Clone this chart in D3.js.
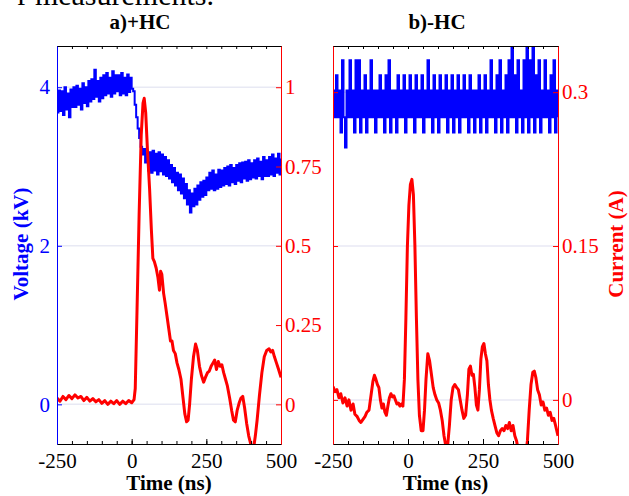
<!DOCTYPE html>
<html>
<head>
<meta charset="utf-8">
<script src="https://cdn.jsdelivr.net/npm/d3@7"></script>
<style>
  body { margin: 0; background: #fff; }
  svg text { font-family: "Liberation Serif", "Times New Roman", serif; }
</style>
</head>
<body>
<div id="chart"></div>
<script>
// tick labels
const timeTicks = [-250, 0, 250, 500];
const voltTicks = [0, 2, 4];
const currTicksA = [0, 0.25, 0.5, 0.75, 1];
const currTicksB = [0, 0.15, 0.3];

// voltage samples (kV), one every 5 ns from -250 ns
const sampleStart = -250, sampleStep = 5;
const voltA = [
  3.68, 3.96, 3.70, 3.95, 3.65, 4.00, 3.72, 3.92, 3.62, 3.97, 3.75,
  4.00, 3.75, 4.02, 3.78, 3.98, 3.72, 4.05, 3.80, 4.00, 3.76,
  4.08, 3.82, 4.10, 3.85, 4.22, 3.88, 4.08, 3.82, 4.12, 3.86,
  4.15, 3.90, 4.18, 3.92, 4.12, 3.88, 4.20, 3.92, 4.15, 3.95,
  4.15, 3.90, 4.18, 3.92, 4.12, 3.90, 4.16, 3.94, 4.12, 3.98,
  3.95, 3.78, 3.62, 3.48, 3.36, 3.25, 3.15, 3.22, 3.05, 3.18,
  2.95, 3.18, 2.92, 3.20, 2.95, 3.16, 2.90, 3.18, 2.94, 3.15,
  2.90, 3.12, 2.88, 3.08, 2.85, 3.02, 2.80, 2.98, 2.76, 2.92,
  2.70, 2.90, 2.66, 2.85, 2.60, 2.78, 2.52, 2.70, 2.42, 2.66,
  2.50, 2.72, 2.52, 2.76, 2.58, 2.80, 2.62, 2.82, 2.64, 2.86,
  2.70, 2.92, 2.72, 2.95, 2.70, 2.90, 2.72, 2.96, 2.74, 2.95,
  2.76, 2.98, 2.78, 3.00, 2.76, 3.02, 2.80, 2.98, 2.78, 3.02,
  2.82, 3.04, 2.80, 3.05, 2.85, 3.06, 2.82, 3.08, 2.84, 3.04,
  2.86, 3.08, 2.85, 3.10, 2.88, 3.06, 2.84, 3.12, 2.88, 3.08,
  2.88, 3.12, 2.90, 3.15, 2.88, 3.10, 2.92, 3.16, 2.90, 3.10
];
const voltB = [
  3.96, 3.62, 4.15, 3.62, 3.96, 3.43, 4.34, 3.62, 3.24, 3.96, 3.62,
  4.34, 3.62, 3.96, 3.43, 4.34, 3.62, 4.34, 3.43, 3.96, 3.62,
  4.15, 3.43, 3.96, 3.62, 4.34, 3.62, 3.96, 3.43, 3.96, 3.62,
  4.15, 3.62, 3.96, 3.43, 4.15, 3.62, 4.34, 3.43, 3.96, 3.62,
  3.96, 3.43, 4.15, 3.62, 3.96, 3.62, 4.15, 3.43, 3.96, 3.62,
  4.15, 3.62, 3.96, 3.43, 4.15, 3.62, 3.96, 3.62, 4.15, 3.43,
  3.96, 3.62, 4.34, 3.62, 3.96, 3.43, 4.15, 3.62, 3.96, 3.43,
  4.15, 3.62, 3.96, 3.62, 4.15, 3.43, 3.96, 3.62, 4.15, 3.43,
  3.96, 3.62, 4.15, 3.43, 3.96, 3.62, 4.15, 3.62, 3.96, 3.43,
  4.15, 3.62, 3.96, 3.43, 3.96, 3.62, 4.15, 3.43, 3.96, 3.62,
  4.15, 3.43, 3.96, 3.62, 4.34, 3.62, 3.96, 3.43, 4.15, 3.62,
  4.34, 3.43, 3.96, 3.62, 4.15, 3.43, 4.34, 3.62, 4.50, 3.62,
  4.15, 3.43, 4.34, 3.62, 3.96, 3.43, 4.34, 3.62, 4.50, 3.43,
  4.34, 3.62, 4.50, 3.43, 4.15, 3.62, 4.34, 3.43, 3.96, 3.62,
  4.34, 3.62, 3.96, 3.43, 4.15, 3.62, 4.34, 3.43, 3.96, 3.62
];

// current, [time ns, current A]
const currA = [
  [-250, 0.02], [-240, 0.01], [-230, 0.025], [-220, 0.015], [-210, 0.028], [-200, 0.018],
  [-190, 0.03], [-180, 0.02], [-170, 0.025], [-160, 0.012], [-150, 0.022], [-140, 0.01],
  [-130, 0.018], [-120, 0.008], [-110, 0.015], [-100, 0.003], [-90, 0.012], [-80, 0.0],
  [-70, 0.01], [-60, 0.002], [-50, 0.012], [-40, 0.0], [-30, 0.01], [-20, 0.002],
  [-10, 0.012], [0, 0.005], [8, 0.015], [12, 0.05], [18, 0.3], [25, 0.6], [32, 0.85],
  [38, 0.95], [42, 0.965], [47, 0.92], [53, 0.8], [60, 0.68], [66, 0.55], [71, 0.46],
  [76, 0.45], [82, 0.43], [88, 0.4], [93, 0.36], [97, 0.42], [101, 0.41], [107, 0.35],
  [112, 0.32], [118, 0.28], [124, 0.24], [130, 0.2], [135, 0.2], [140, 0.17], [146, 0.16],
  [152, 0.13], [158, 0.11], [165, 0.08], [172, 0.02], [178, -0.03], [184, -0.055],
  [189, -0.05], [194, 0.0], [200, 0.08], [207, 0.15], [214, 0.19], [220, 0.17],
  [227, 0.12], [234, 0.09], [241, 0.07], [247, 0.085], [254, 0.1], [260, 0.105],
  [266, 0.12], [272, 0.13], [278, 0.14], [284, 0.11], [290, 0.135], [296, 0.12],
  [302, 0.125], [308, 0.1], [314, 0.08], [320, 0.06], [328, 0.02], [335, -0.02],
  [341, -0.05], [347, -0.055], [353, -0.02], [360, 0.005], [366, 0.02], [372, 0.025],
  [378, -0.01], [385, -0.06], [392, -0.1], [400, -0.13], [408, -0.14], [414, -0.1],
  [420, -0.05], [428, 0.03], [436, 0.1], [444, 0.15], [452, 0.17], [460, 0.175],
  [466, 0.165], [472, 0.17], [478, 0.15], [485, 0.13], [492, 0.11], [500, 0.085]
];
const currB = [
  [-250, 0.013], [-243, 0.008], [-237, 0.01], [-230, 0.002], [-224, 0.006], [-217, -0.003],
  [-210, 0.002], [-203, -0.006], [-197, 0.0], [-190, -0.01], [-183, -0.004], [-177, -0.014],
  [-170, -0.016], [-163, -0.02], [-157, -0.022], [-150, -0.019], [-143, -0.016], [-137, -0.012],
  [-130, -0.01], [-123, 0.005], [-117, 0.018], [-112, 0.024], [-107, 0.02], [-102, 0.015],
  [-97, 0.012], [-92, 0.0], [-87, -0.008], [-82, -0.004], [-77, -0.012], [-72, -0.015],
  [-67, -0.006], [-62, 0.002], [-57, 0.006], [-52, 0.003], [-47, 0.004], [-42, 0.0],
  [-37, -0.004], [-32, -0.003], [-27, -0.006], [-22, -0.004], [-17, -0.006], [-12, 0.02],
  [-7, 0.08], [-2, 0.15], [3, 0.19], [8, 0.21], [13, 0.215], [18, 0.2], [23, 0.15],
  [28, 0.08], [33, 0.02], [38, -0.015], [44, -0.03], [50, -0.03], [55, -0.01], [60, 0.02],
  [66, 0.045], [72, 0.038], [78, 0.025], [84, 0.012], [90, 0.005], [96, 0.0], [102, -0.003],
  [108, -0.01], [114, -0.02], [120, -0.035], [126, -0.045], [132, -0.045], [138, -0.025],
  [144, 0.0], [150, 0.012], [156, 0.015], [162, 0.012], [168, 0.01], [174, 0.0], [180, -0.01],
  [186, -0.018], [192, -0.015], [198, 0.005], [203, 0.03], [208, 0.033], [213, 0.024],
  [218, 0.025], [223, 0.012], [228, -0.005], [233, -0.01], [238, 0.01], [243, 0.04],
  [248, 0.052], [253, 0.055], [258, 0.045], [263, 0.038], [268, 0.015], [273, 0.0],
  [278, -0.01], [284, -0.018], [290, -0.025], [296, -0.032], [302, -0.035], [308, -0.03],
  [314, -0.028], [320, -0.03], [326, -0.025], [332, -0.028], [338, -0.022], [344, -0.03],
  [350, -0.025], [356, -0.035], [362, -0.04], [368, -0.05], [376, -0.06], [384, -0.065],
  [392, -0.055], [398, -0.04], [404, -0.01], [410, 0.015], [416, 0.027], [421, 0.028],
  [426, 0.022], [432, 0.01], [438, 0.005], [444, -0.005], [450, -0.002], [456, -0.01],
  [462, -0.008], [468, -0.015], [474, -0.012], [480, -0.02], [486, -0.018], [492, -0.025],
  [500, -0.035]
];

const width = 629, height = 496;
const plotTop = 46, plotBottom = 444;
const blue = "#0000ff", red = "#ff0000";

const svg = d3.select("#chart").append("svg")
    .attr("width", width)
    .attr("height", height);

// cut off caption text from the page above
svg.append("text")
    .attr("x", 214).attr("y", 5)
    .attr("text-anchor", "end")
    .style("font-size", "30px")
    .text("r measurements.");

const toPoints = vals => vals.map((v, i) => [sampleStart + i * sampleStep, v]);

function drawPanel(opt) {
  const x = d3.scaleLinear().domain([-250, 500]).range([opt.x0, opt.x1]);
  const yV = d3.scaleLinear().domain([-0.5, 4.52]).range([plotBottom, plotTop]);
  const yI = d3.scaleLinear().domain(opt.currDomain).range([plotBottom, plotTop]);

  const g = svg.append("g");
  const clipId = "clip" + opt.id;
  svg.append("clipPath").attr("id", clipId)
    .append("rect")
      .attr("x", opt.x0).attr("y", plotTop)
      .attr("width", opt.x1 - opt.x0).attr("height", plotBottom - plotTop);

  // faint grid lines
  const gridY = opt.gridOnVolt ? voltTicks.map(yV) : opt.currTicks.map(yI);
  g.selectAll(".grid").data(gridY).enter().append("line")
      .attr("x1", opt.x0).attr("x2", opt.x1)
      .attr("y1", d => d).attr("y2", d => d)
      .attr("stroke", "#e8e9f4").attr("stroke-width", 1.5);

  const plot = g.append("g").attr("clip-path", `url(#${clipId})`);

  plot.append("path")
      .datum(toPoints(opt.volt))
      .attr("fill", "none")
      .attr("stroke", blue)
      .attr("stroke-width", 2)
      .attr("d", d3.line().curve(d3.curveStepAfter)
        .x(d => x(d[0]))
        .y(d => yV(d[1])));

  plot.append("path")
      .datum(opt.curr)
      .attr("fill", "none")
      .attr("stroke", red)
      .attr("stroke-width", 3)
      .attr("stroke-linejoin", "round")
      .attr("d", d3.line()
        .x(d => x(d[0]))
        .y(d => yI(d[1])));

  // bottom + top axes, minor ticks every 50 ns
  const minor = d3.range(-250, 501, 50);
  g.append("g").attr("transform", `translate(0,${plotBottom})`)
      .call(d3.axisBottom(x).tickValues(minor).tickSize(-3).tickSizeOuter(0).tickFormat(""));
  g.append("g").attr("transform", `translate(0,${plotBottom})`)
      .call(d3.axisBottom(x).tickValues(timeTicks).tickSize(-5).tickSizeOuter(0).tickPadding(9)
        .tickFormat(d => String(d)))
      .call(a => a.selectAll("text").style("font-size", "21px").attr("fill", "#000"));
  g.append("g").attr("transform", `translate(0,${plotTop})`)
      .call(d3.axisTop(x).tickValues(minor).tickSize(-3).tickSizeOuter(0).tickFormat(""));

  // left axis
  const left = g.append("g").attr("transform", `translate(${opt.x0},0)`);
  if (opt.showVolt) {
    left.call(d3.axisLeft(yV).tickValues(voltTicks).tickSize(-5).tickSizeOuter(0).tickPadding(7)
      .tickFormat(d => String(d)));
    left.selectAll("text").style("font-size", "21px").attr("fill", opt.leftColor);
  } else {
    left.call(d3.axisLeft(yI).tickValues(opt.currTicks).tickSize(-5).tickSizeOuter(0).tickFormat(""));
  }
  left.selectAll("path, line").attr("stroke", opt.leftColor);

  // right axis
  const right = g.append("g").attr("transform", `translate(${opt.x1},0)`)
      .call(d3.axisRight(yI).tickValues(opt.currTicks).tickSize(-5).tickSizeOuter(0).tickPadding(4)
        .tickFormat(d => String(d)));
  right.selectAll("path, line").attr("stroke", red);
  right.selectAll("text").style("font-size", "21px").attr("fill", red);

  g.selectAll(".domain").attr("stroke-width", 1);

  svg.append("text")
      .attr("x", opt.titleX).attr("y", 29)
      .attr("text-anchor", "middle")
      .style("font-size", "21px").style("font-weight", "bold")
      .text(opt.title);

  svg.append("text")
      .attr("x", (opt.x0 + opt.x1) / 2).attr("y", 490)
      .attr("text-anchor", "middle")
      .style("font-size", "21px").style("font-weight", "bold")
      .text("Time (ns)");
}

drawPanel({id: "a", x0: 57, x1: 281, volt: voltA, curr: currA,
  currDomain: [-0.125, 1.13], currTicks: currTicksA, showVolt: true,
  leftColor: blue, gridOnVolt: true, title: "a)+HC", titleX: 140});
drawPanel({id: "b", x0: 333, x1: 558, volt: voltB, curr: currB,
  currDomain: [-0.043, 0.345], currTicks: currTicksB, showVolt: false,
  leftColor: red, gridOnVolt: false, title: "b)-HC", titleX: 437});

// axis titles
svg.append("text")
    .attr("transform", "translate(28,244) rotate(-90)")
    .attr("text-anchor", "middle")
    .attr("fill", blue)
    .style("font-size", "21px").style("font-weight", "bold")
    .text("Voltage (kV)");

svg.append("text")
    .attr("transform", "translate(623,244) rotate(-90)")
    .attr("text-anchor", "middle")
    .attr("fill", red)
    .style("font-size", "21px").style("font-weight", "bold")
    .text("Current (A)");
</script>
</body>
</html>
